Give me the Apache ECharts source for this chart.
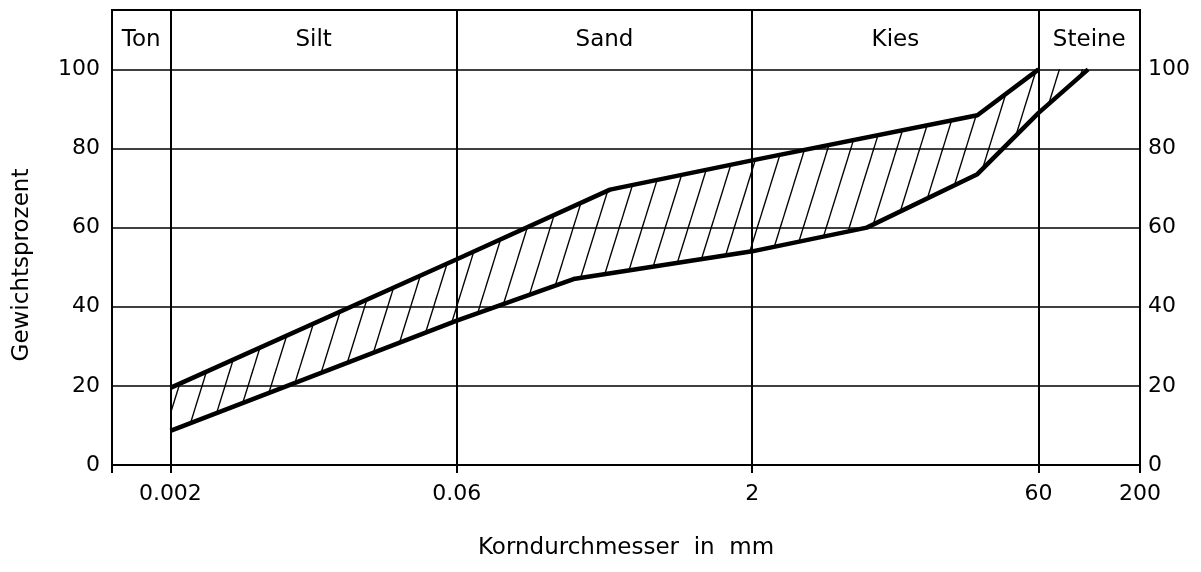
<!doctype html>
<html>
<head>
<meta charset="utf-8" />
<script src="https://cdn.jsdelivr.net/npm/echarts@6/dist/echarts.min.js"></script>
<style>
  html, body { margin: 0; padding: 0; background: #fff; }
  #chart { width: 1201px; height: 572px; }
</style>
</head>
<body>
<div id="chart"></div>
<script>
// band boundaries (grain size in mm, percent passing)
const upperX = [0.002, 0.06, 0.37, 2, 29, 60];
const upperY = [19.5, 52, 69.6, 77, 88.4, 100];
const lowerX = [0.002, 0.06, 0.24, 2, 7.8, 29, 60, 108];
const lowerY = [8.6, 36.5, 47, 54, 60, 73.5, 89, 100];

// soil classes and their limits
const zones = ['Ton', 'Silt', 'Sand', 'Kies', 'Steine'];
const zoneBounds = [0.001, 0.002, 0.06, 2, 60, 200];
const xTicks = [0.002, 0.06, 2, 60, 200];

const FONT = 'DejaVu Sans';

const upper = upperX.map((x, i) => [x, upperY[i]]);
const lower = lowerX.map((x, i) => [x, lowerY[i]]);

// hatch pattern "/" (seamless: three parallel lines across the tile)
function hatch() {
    const w = 23, h = 74;
    const c = document.createElement('canvas');
    c.width = w; c.height = h;
    const ctx = c.getContext('2d');
    ctx.strokeStyle = '#000';
    ctx.lineWidth = 1.4;
    for (let k = 0; k <= 2; k++) {
        ctx.beginPath();
        ctx.moveTo(-w, h * (k + 1));
        ctx.lineTo(2 * w, h * (k - 2));
        ctx.stroke();
    }
    return c;
}
const pattern = { image: hatch(), repeat: 'repeat' };

const zoneAreas = zones.map((z, i) => [
    { name: z, xAxis: zoneBounds[i], yAxis: 100 },
    { xAxis: zoneBounds[i + 1], yAxis: 115 }
]);

const zoneLines = zoneBounds.slice(1, 5).map(v => [
    { coord: [v, 0] },
    { coord: [v, 115] }
]);

const chart = echarts.init(document.getElementById('chart'), null, { renderer: 'canvas' });
chart.setOption({
    animation: false,
    grid: {
        left: 112, right: 61, top: 10, bottom: 107,
        show: true, borderColor: '#000', borderWidth: 2
    },
    xAxis: {
        type: 'log',
        min: 0.001,
        max: 200,
        logBase: 10,
        name: 'Korndurchmesser  in  mm',
        nameLocation: 'middle',
        nameGap: 72,
        nameTextStyle: { fontFamily: FONT, fontSize: 23, color: '#000' },
        axisLine: { lineStyle: { color: '#000', width: 2 } },
        axisTick: { show: true, length: 8, lineStyle: { color: '#000', width: 2 }, customValues: [0.001].concat(xTicks) },
        axisLabel: {
            customValues: xTicks,
            formatter: v => String(v),
            fontFamily: FONT, fontSize: 22, color: '#000', margin: 18
        },
        splitLine: { show: false },
        minorSplitLine: { show: false }
    },
    yAxis: [{
        type: 'value',
        min: 0, max: 115, interval: 20,
        axisLine: { show: false },
        axisTick: { show: false },
        axisLabel: {
            formatter: v => (v <= 100 ? String(v) : ''),
            fontFamily: FONT, fontSize: 22, color: '#000', margin: 12
        },
        splitLine: { show: true, lineStyle: { color: '#000', width: 1.5 } }
    }, {
        type: 'value',
        position: 'right',
        min: 0, max: 115, interval: 20,
        axisLine: { show: false },
        axisTick: { show: false },
        axisLabel: {
            formatter: v => (v <= 100 ? String(v) : ''),
            fontFamily: FONT, fontSize: 22, color: '#000', margin: 8
        },
        splitLine: { show: false }
    }],
    graphic: [{
        type: 'text',
        x: 22, y: 265,
        rotation: Math.PI / 2,
        style: {
            text: 'Gewichtsprozent',
            fontFamily: FONT, fontSize: 23, fill: '#000',
            align: 'center', verticalAlign: 'middle'
        }
    }],
    series: [{
        type: 'custom',
        silent: true,
        data: [[upperX[0], upperY[0]]],
        renderItem: function (params, api) {
            const pts = upper.map(p => api.coord(p))
                .concat(lower.slice().reverse().map(p => api.coord(p)));
            return {
                type: 'polygon',
                shape: { points: pts },
                style: { fill: pattern, stroke: null }
            };
        },
        z: 1,
        markLine: {
            silent: true,
            symbol: 'none',
            label: { show: false },
            lineStyle: { color: '#000', width: 2, type: 'solid' },
            data: zoneLines
        }
    }, {
        type: 'line',
        data: upper,
        symbol: 'none',
        lineStyle: { color: '#000', width: 4.5 },
        silent: true,
        z: 3
    }, {
        type: 'line',
        data: lower,
        symbol: 'none',
        lineStyle: { color: '#000', width: 4.5 },
        silent: true,
        z: 3,
        markArea: {
            silent: true,
            itemStyle: { color: 'rgba(0,0,0,0)' },
            label: {
                show: true, position: 'inside',
                fontFamily: FONT, fontSize: 23, color: '#000'
            },
            data: zoneAreas
        }
    }]
});
</script>
</body>
</html>
